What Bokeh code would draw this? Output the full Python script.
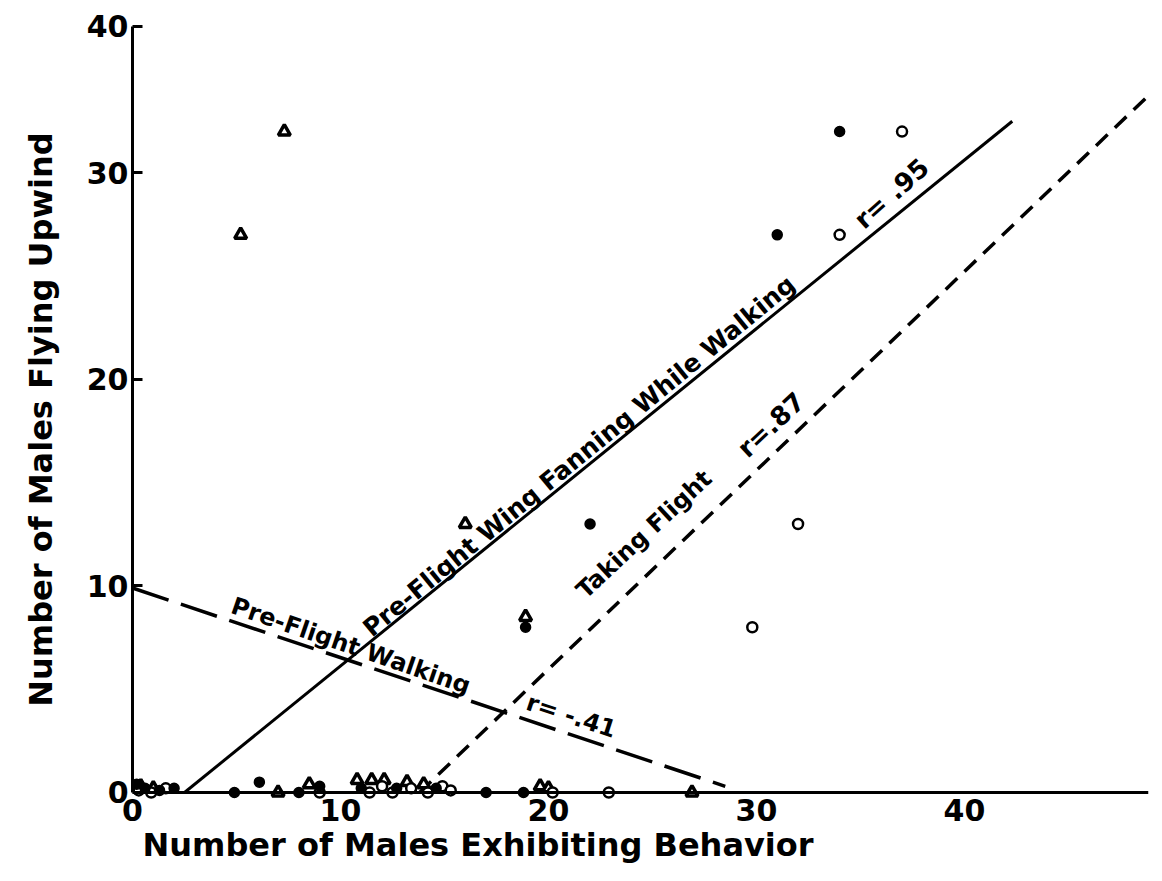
from bokeh.plotting import figure
from bokeh.models import Range1d, FixedTicker, Label, Span, Title
from bokeh.embed import file_html
from bokeh.resources import INLINE

FONT = "DejaVu Sans"

# ---- data ----
# Pre-Flight Walking (open triangles)
walk_x = [5.2, 7.3, 16.0, 18.9, 0.4, 1.0, 7.0, 8.5, 10.8, 11.5, 12.1, 13.2, 14.0, 19.6, 20.0, 26.9]
walk_y = [27.0, 32.0, 13.0, 8.5, 0.3, 0.2, 0.0, 0.4, 0.6, 0.6, 0.6, 0.5, 0.4, 0.3, 0.2, 0.0]
# Pre-Flight Wing Fanning While Walking (filled circles)
fan_x = [34.0, 31.0, 22.0, 18.9, 0.2, 0.6, 1.3, 2.0, 4.9, 6.1, 8.0, 9.0, 11.0, 12.7, 14.6, 17.0, 18.8]
fan_y = [32.0, 27.0, 13.0, 8.0, 0.4, 0.2, 0.1, 0.2, 0.0, 0.5, 0.0, 0.3, 0.2, 0.2, 0.2, 0.0, 0.0]
# Taking Flight (open circles)
flight_x = [37.0, 34.0, 32.0, 29.8, 0.3, 0.9, 1.6, 9.0, 11.4, 12.0, 12.5, 13.4, 14.2, 14.9, 15.3, 20.2, 22.9]
flight_y = [32.0, 27.0, 13.0, 8.0, 0.1, 0.0, 0.2, 0.0, 0.0, 0.3, 0.0, 0.2, 0.0, 0.3, 0.1, 0.0, 0.0]

# regression lines (end points)
walk_line_x = [0.0, 28.5]
walk_line_y = [9.9, 0.3]
fan_line_x = [2.5, 42.3]
fan_line_y = [0.0, 32.5]
flight_line_x = [13.8, 48.7]
flight_line_y = [0.0, 33.6]

x_ticks = [0, 10, 20, 30, 40]
y_ticks = [0, 10, 20, 30, 37.1]
y_tick_labels = {37.1: "40"}

p = figure(width=1150, height=869, output_backend="svg", toolbar_location=None,
           x_range=Range1d(0, 48.85), y_range=Range1d(-0.63, 37.28),
           min_border_left=132, min_border_right=2, min_border_top=22, min_border_bottom=64)
p.background_fill_color = "white"
p.border_fill_color = "white"
p.outline_line_color = None
p.grid.visible = False

for ax in (p.xaxis[0], p.yaxis[0]):
    ax.axis_line_width = 3
    ax.axis_line_color = "black"
    ax.major_tick_line_width = 3
    ax.major_tick_line_color = "black"
    ax.minor_tick_line_color = None
    ax.major_tick_out = 0
    ax.major_label_text_font = FONT
    ax.major_label_text_font_size = "30px"
    ax.major_label_text_font_style = "bold"
    ax.major_label_text_color = "black"
    ax.axis_label_text_font = FONT
    ax.axis_label_text_font_size = "32px"
    ax.axis_label_text_font_style = "bold"
    ax.axis_label_text_color = "black"

p.xaxis.ticker = FixedTicker(ticks=x_ticks)
p.yaxis.ticker = FixedTicker(ticks=y_ticks)
p.yaxis.major_label_overrides = y_tick_labels
p.yaxis.bounds = (0, 37.1)
p.yaxis.major_tick_in = 10
p.yaxis.major_label_standoff = 4
p.yaxis.axis_label = "Number of Males Flying  Upwind"
p.yaxis.axis_label_standoff = 24

# x axis: line drawn at y = 0, labels pulled up to it
p.xaxis.axis_line_color = None
p.xaxis.major_tick_line_color = None
p.xaxis.major_tick_in = 0
p.xaxis.major_label_standoff = -7
p.add_layout(Span(location=0, dimension="width", line_color="black", line_width=3))
p.add_layout(Title(text="Number of Males Exhibiting Behavior", align="left", offset=10,
                   standoff=0, text_font=FONT, text_font_size="32px",
                   text_font_style="bold", text_color="black"), "below")

# regression lines
p.line(walk_line_x, walk_line_y, line_color="black", line_width=3.5, line_dash="38 13")
p.line(fan_line_x, fan_line_y, line_color="black", line_width=3)
p.line(flight_line_x, flight_line_y, line_color="black", line_width=3.5, line_dash="16 10")

# points
p.scatter(walk_x, walk_y, marker="triangle", size=12, fill_color="white",
          line_color="black", line_width=3.5)
p.scatter(flight_x, flight_y, marker="circle", size=10, fill_color="white",
          line_color="black", line_width=2.5)
p.scatter(fan_x, fan_y, marker="circle", size=10, fill_color="black",
          line_color="black", line_width=1.5)

def lab(x, y, text, angle, size):
    p.add_layout(Label(x=x, y=y, text=text, angle=angle, angle_units="deg",
                       text_align="center", text_baseline="middle",
                       text_font=FONT, text_font_size=size, text_font_style="bold",
                       text_color="black"))

lab(21.8, 16.56, "Pre-Flight   Wing Fanning While Walking", 39.5, "25px")
lab(36.5, 29.0, "r= .95", 42, "26px")
lab(24.6, 12.5, "Taking Flight", 43, "24px")
lab(30.7, 17.8, "r=.87", 43, "26px")
lab(10.5, 7.1, "Pre-Flight Walking", -19, "24px")
lab(21.1, 3.7, "r= -.41", -18, "24px")

open("out.html", "w").write(file_html(p, INLINE))
